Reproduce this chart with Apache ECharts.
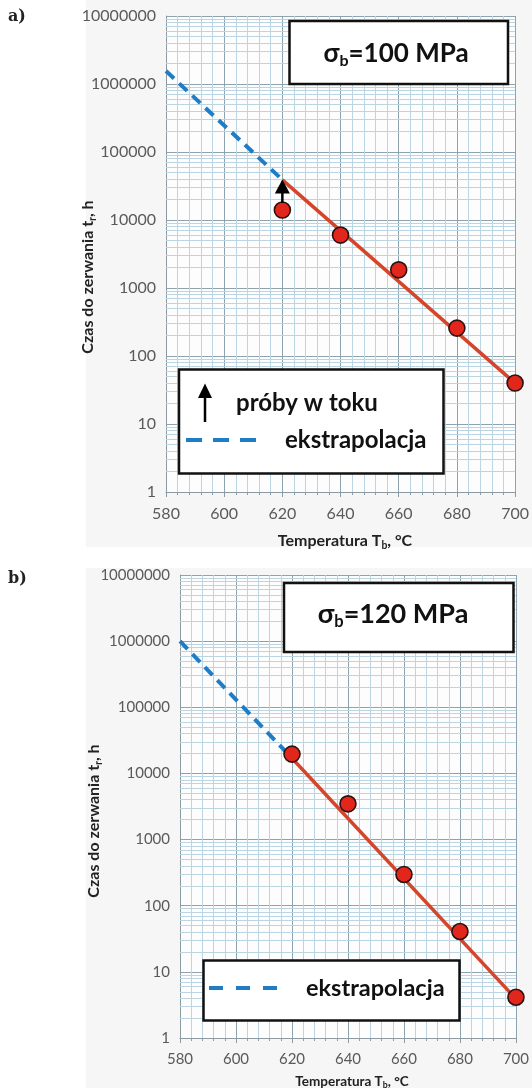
<!DOCTYPE html>
<html>
<head>
<meta charset="utf-8">
<script src="https://cdn.jsdelivr.net/npm/echarts@6/dist/echarts.min.js"></script>
<style>
html, body { margin: 0; padding: 0; background: #fff; }
#chart { width: 532px; height: 1088px; }
</style>
</head>
<body>
<div id="chart"></div>
<script>
// temperatura badania, °C
const temps = [620, 640, 660, 680, 700];
// czas do zerwania, h  (a: 100 MPa, b: 120 MPa)
const tRupA = [14000, 6000, 1850, 257, 40];
const tRupB = [19600, 3470, 297, 40.8, 4.13];
// linia trendu
const fitT = [620, 700];
const fitA = [39000, 40];
const fitB = [17000, 3.9];
// ekstrapolacja
const extT = [580, 620];
const extA = [1550000, 39000];
const extB = [1000000, 17000];
// strzalka "próby w toku" (tylko wykres a)
const arrowT = [620, 620];
const arrowA = [17800, 31000];
// osie
const xTicks = [580, 600, 620, 640, 660, 680, 700];
const yTicks = [1, 10, 100, 1000, 10000, 100000, 1000000, 10000000];
const minorMult = [2, 3, 4, 5, 6, 7, 8, 9];

const FONT = 'Lato';
const RED_LINE = '#d4452a';
const RED_DOT = '#e2261c';
const BLUE = '#1f7dc6';
const MAJOR = '#8ea3b0';
const MINOR = '#bcd5e3';

function pairs(xs, ys) {
  return xs.map((x, i) => [x, ys[i]]);
}

// minor log gridlines 2..9 in every decade
let minorY = [];
yTicks.slice(0, -1).forEach(d => {
  minorMult.forEach(m => minorY.push({ yAxis: d * m }));
});

function xAxisFor(idx, fs, margin) {
  return {
    gridIndex: idx,
    type: 'value',
    min: xTicks[0],
    max: xTicks[xTicks.length - 1],
    interval: xTicks[1] - xTicks[0],
    axisLine: { show: true, lineStyle: { color: '#8d9aa2', width: 1 } },
    axisTick: { show: true, length: 5, lineStyle: { color: '#8d9aa2' } },
    minorTick: { show: true, splitNumber: 5, length: 3, lineStyle: { color: '#8d9aa2' } },
    axisLabel: { fontFamily: FONT, fontSize: fs, color: '#5a5a5a', margin: margin },
    splitLine: { show: true, lineStyle: { color: MAJOR, width: 1 } },
    minorSplitLine: { show: true, lineStyle: { color: MINOR, width: 1 } }
  };
}

function yAxisFor(idx, fs) {
  return {
    gridIndex: idx,
    type: 'log',
    logBase: 10,
    min: yTicks[0],
    max: yTicks[yTicks.length - 1],
    splitNumber: yTicks.length - 1,
    axisLine: { show: true, lineStyle: { color: '#8d9aa2', width: 1 } },
    axisTick: { show: false },
    axisLabel: {
      fontFamily: FONT, fontSize: fs, color: '#5a5a5a', margin: 10,
      formatter: v => String(Math.round(v))
    },
    splitLine: { show: true, lineStyle: { color: MAJOR, width: 1.2 } }
  };
}

function seriesFor(idx, pts, fit, ext) {
  return [
    {
      type: 'line', xAxisIndex: idx, yAxisIndex: idx, data: [], z: 1,
      silent: true,
      markLine: {
        z: 1, silent: true, animation: false, symbol: ['none', 'none'],
        label: { show: false },
        lineStyle: { color: MINOR, width: 1, type: 'solid' },
        data: minorY
      }
    },
    {
      name: 'ekstrapolacja', type: 'line', xAxisIndex: idx, yAxisIndex: idx,
      data: pairs(extT, ext), showSymbol: false, z: 3,
      lineStyle: { color: BLUE, width: 4, type: [11, 7] }
    },
    {
      type: 'line', xAxisIndex: idx, yAxisIndex: idx,
      data: pairs(fitT, fit), showSymbol: false, z: 4,
      lineStyle: { color: RED_LINE, width: 3.5 }
    },
    {
      type: 'scatter', xAxisIndex: idx, yAxisIndex: idx,
      data: pairs(temps, pts), symbolSize: 16, z: 6,
      itemStyle: { color: RED_DOT, borderColor: '#2b1212', borderWidth: 1.6, opacity: 1 }
    }
  ];
}

function sigmaText(val) {
  return '{a|σ}{s|b}{a|=' + val + ' MPa}';
}

function richName(fs, sub) {
  return {
    n: { fontFamily: FONT, fontWeight: 'bold', fontSize: fs, fill: '#222', verticalAlign: 'middle' },
    s: { fontFamily: FONT, fontWeight: 'bold', fontSize: fs * 0.65, fill: '#222', verticalAlign: 'middle', padding: [sub, 0, 0, 0] }
  };
}

const chart = echarts.init(document.getElementById('chart'));

const series = seriesFor(0, tRupA, fitA, extA).concat(seriesFor(1, tRupB, fitB, extB));
series.push({
  name: 'próby w toku', type: 'line', xAxisIndex: 0, yAxisIndex: 0, z: 7,
  data: [
    { value: [arrowT[0], arrowA[0]], symbol: 'none' },
    { value: [arrowT[1], arrowA[1]], symbol: 'triangle', symbolSize: [15, 14] }
  ],
  showAllSymbol: true,
  lineStyle: { color: '#000', width: 2.5 },
  itemStyle: { color: '#000' }
});

const option = {
  animation: false,
  backgroundColor: '#ffffff',
  grid: [
    { left: 166, top: 16, width: 355, height: 476, show: true, backgroundColor: '#fdfdfd', borderWidth: 0 },
    { left: 180, top: 575, width: 341.5, height: 463, show: true, backgroundColor: '#fdfdfd', borderWidth: 0 }
  ],
  xAxis: [xAxisFor(0, 16, 14), xAxisFor(1, 15, 14)],
  yAxis: [yAxisFor(0, 16), yAxisFor(1, 15)],
  series: series,
  graphic: [
    // panels
    { type: 'rect', z: -10, shape: { x: 86, y: 0, width: 446, height: 547 }, style: { fill: '#f6f6f6' } },
    { type: 'rect', z: -10, shape: { x: 86, y: 568, width: 446, height: 520 }, style: { fill: '#f6f6f6' } },
    // panel letters
    { type: 'text', x: 8, y: 17, style: { text: 'a)', font: 'bold 16px "DejaVu Serif"', fill: '#222', verticalAlign: 'middle' } },
    { type: 'text', x: 8, y: 579, style: { text: 'b)', font: 'bold 16px "DejaVu Serif"', fill: '#222', verticalAlign: 'middle' } },
    // axis names
    {
      type: 'text', x: 88, y: 277, rotation: Math.PI / 2,
      style: { text: '{n|Czas do zerwania t}{s|r}{n|, h}', align: 'center', verticalAlign: 'middle', rich: richName(16, 9) }
    },
    {
      type: 'text', x: 345, y: 541,
      style: { text: '{n|Temperatura T}{s|b}{n|, °C}', align: 'center', verticalAlign: 'middle', rich: richName(16, 9) }
    },
    {
      type: 'text', x: 94, y: 821, rotation: Math.PI / 2,
      style: { text: '{n|Czas do zerwania t}{s|r}{n|, h}', align: 'center', verticalAlign: 'middle', rich: richName(16, 9) }
    },
    {
      type: 'text', x: 352, y: 1082,
      style: { text: '{n|Temperatura T}{s|b}{n|, °C}', align: 'center', verticalAlign: 'middle', rich: richName(13.5, 7) }
    },
    // title boxes
    { type: 'rect', z: 100, shape: { x: 289.5, y: 21, width: 218.5, height: 63 }, style: { fill: '#fff', stroke: '#111', lineWidth: 2.5 } },
    {
      type: 'text', z: 101, x: 396, y: 54,
      style: {
        text: sigmaText(100), align: 'center', verticalAlign: 'middle',
        rich: {
          a: { fontFamily: FONT, fontWeight: 'bold', fontSize: 26, fill: '#111', verticalAlign: 'middle' },
          s: { fontFamily: FONT, fontWeight: 'bold', fontSize: 16, fill: '#111', verticalAlign: 'middle', padding: [14, 0, 0, 0] }
        }
      }
    },
    { type: 'rect', z: 100, shape: { x: 284, y: 583, width: 229.5, height: 69 }, style: { fill: '#fff', stroke: '#111', lineWidth: 2.5 } },
    {
      type: 'text', z: 101, x: 393, y: 614,
      style: {
        text: sigmaText(120), align: 'center', verticalAlign: 'middle',
        rich: {
          a: { fontFamily: FONT, fontWeight: 'bold', fontSize: 27, fill: '#111', verticalAlign: 'middle' },
          s: { fontFamily: FONT, fontWeight: 'bold', fontSize: 16.5, fill: '#111', verticalAlign: 'middle', padding: [15, 0, 0, 0] }
        }
      }
    },
    // legend a
    { type: 'rect', z: 100, shape: { x: 179, y: 369.5, width: 264.5, height: 104 }, style: { fill: '#fff', stroke: '#111', lineWidth: 2.5 } },
    { type: 'line', z: 101, shape: { x1: 205, y1: 422, x2: 205, y2: 394 }, style: { stroke: '#000', lineWidth: 2.5 } },
    { type: 'polygon', z: 101, shape: { points: [[198, 398], [212, 398], [205, 383.5]] }, style: { fill: '#000' } },
    { type: 'text', z: 101, x: 236, y: 403, style: { text: 'próby w toku', font: 'bold 24px ' + FONT, fill: '#111', verticalAlign: 'middle' } },
    { type: 'line', z: 101, shape: { x1: 186, y1: 440, x2: 256, y2: 440 }, style: { stroke: BLUE, lineWidth: 4, lineDash: [16, 11] } },
    { type: 'text', z: 101, x: 285, y: 440, style: { text: 'ekstrapolacja', font: 'bold 24px ' + FONT, fill: '#111', verticalAlign: 'middle' } },
    // legend b
    { type: 'rect', z: 100, shape: { x: 203.5, y: 960.5, width: 256, height: 60 }, style: { fill: '#fff', stroke: '#111', lineWidth: 2.5 } },
    { type: 'line', z: 101, shape: { x1: 209, y1: 988, x2: 278, y2: 988 }, style: { stroke: BLUE, lineWidth: 4, lineDash: [14, 13] } },
    { type: 'text', z: 101, x: 306, y: 988, style: { text: 'ekstrapolacja', font: 'bold 23.5px ' + FONT, fill: '#111', verticalAlign: 'middle' } }
  ]
};

chart.setOption(option);
</script>
</body>
</html>
